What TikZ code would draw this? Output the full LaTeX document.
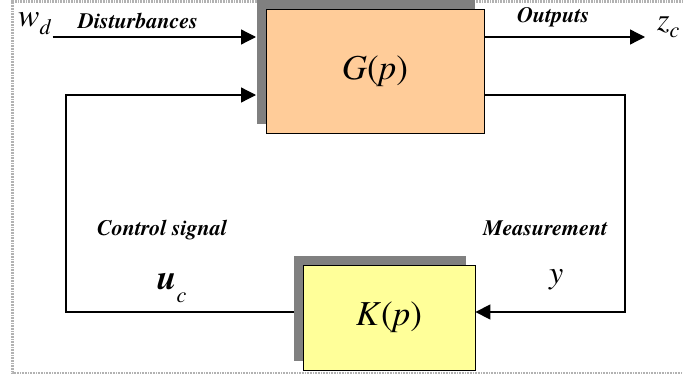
\documentclass[tikz,border=0pt]{standalone}
\usepackage{fontspec}
\setmainfont{texgyretermes}[Extension=.otf,UprightFont=*-regular,%
  ItalicFont=*-italic,BoldFont=*-bold,BoldItalicFont=*-bolditalic]
\usetikzlibrary{arrows.meta}
\usetikzlibrary{shadows}
\definecolor{plantfill}{HTML}{FFCC99}
\definecolor{ctrlfill}{HTML}{FFFF99}
\definecolor{shadegray}{HTML}{808080}
\newcommand\lowidx[2][8pt]{\raisebox{-#1}{\fontsize{22}{22}\selectfont\mdseries\itshape #2}}

\begin{document}
\begin{tikzpicture}
[x=1pt,y=-1pt,%
  block/.style={draw,line width=0.8pt,inner sep=0pt,%
    general shadow={fill=shadegray,shadow xshift=-9pt,shadow yshift=9pt}},%
  signal/.style={line width=1.3pt,-{Triangle[length=15pt,width=15pt]}},%
  lbl/.style={anchor=base west,inner sep=0pt,%
    font=\fontsize{22}{22}\selectfont\bfseries\itshape},%
  var/.style={anchor=base west,inner sep=0pt,%
    font=\fontsize{32}{32}\selectfont\itshape}]
\useasboundingbox (0,0) rectangle (683,380);
%% frame
\draw[gray!60,line width=2.5pt,dash pattern=on 1pt off 0.6pt]
  (683,1.5) -- (12.5,1.5) -- (12.5,373) -- (683,373);
%% blocks
\node[block,fill=plantfill,minimum width=218pt,minimum height=124pt,%
  font=\fontsize{35}{35}\selectfont] (G) at (375,71) {\textit{G}(\textit{p})};
\node[block,fill=ctrlfill,minimum width=172pt,minimum height=105pt,%
  font=\fontsize{35}{35}\selectfont] (K) at (389,317.5) {\textit{K}(\textit{p})};
%% signals
\node[var] (wd) at (18,27) {w\lowidx{d}};
\node[var] (zc) at (657,30) {z\lowidx[7pt]{c}};
\node[var,font=\fontsize{35}{35}\selectfont\bfseries\itshape] (uc) at (157,289) {u\lowidx[13pt]{c}};
\node[var] (y) at (549,283) {y};
\coordinate (din) at (256,37);
\coordinate (uin) at (256,95);
\coordinate (zout) at (645,37);
\coordinate (yb) at (625,312);
\coordinate (kout) at (294,312);
\coordinate (ut) at (66,95);
\draw[signal] ([xshift=2pt]wd.east |- din) -- (din);
\draw[signal] (G.east |- din) -- (zout);
\draw[signal] (G.east |- uin) -| (yb) -- (K.east |- yb);
\draw[signal] (kout) -| (ut) -- (uin);
%% labels
\node[lbl] (dist) at (78,28) {Disturbances};
\node[lbl] (outp) at (517,22) {Outputs};
\node[lbl] (ctrl) at (97,235) {Control signal};
\node[lbl] (meas) at (483,235) {Measurement};
\end{tikzpicture}
\end{document}
